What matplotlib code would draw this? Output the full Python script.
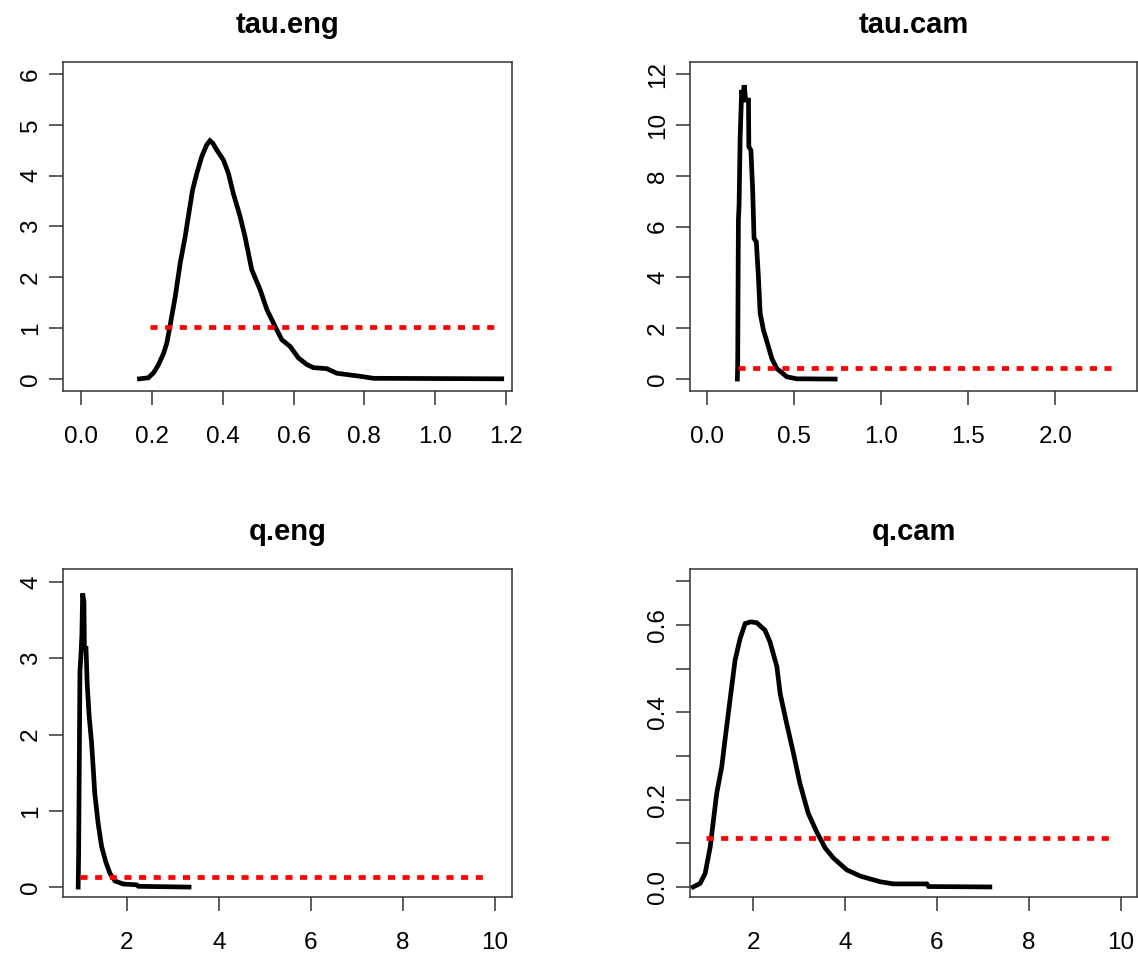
import matplotlib
matplotlib.use("Agg")
import matplotlib.pyplot as plt

plt.rcParams['font.family'] = ['Liberation Sans', 'DejaVu Sans']

# posterior densities
tau_eng_x = [0.165, 0.19, 0.205, 0.218, 0.233, 0.242, 0.251, 0.266, 0.28, 0.294, 0.303, 0.315,
             0.327, 0.341, 0.355, 0.364, 0.372, 0.383, 0.402, 0.416, 0.43, 0.449, 0.463, 0.482,
             0.506, 0.525, 0.548, 0.567, 0.59, 0.614, 0.638, 0.656, 0.694, 0.722, 0.788,
             0.826, 1.188]
tau_eng_y = [0.0, 0.02, 0.12, 0.27, 0.5, 0.7, 1.03, 1.62, 2.28, 2.8, 3.2, 3.72,
             4.05, 4.38, 4.61, 4.69, 4.64, 4.51, 4.31, 4.05, 3.65, 3.2, 2.8, 2.15,
             1.75, 1.36, 1.03, 0.77, 0.64, 0.41, 0.28, 0.22, 0.2, 0.11, 0.05,
             0.01, 0.0]

tau_cam_x = [0.174, 0.176, 0.18, 0.184, 0.19, 0.199, 0.206, 0.213, 0.222, 0.238, 0.24,
             0.252, 0.262, 0.27, 0.283, 0.295, 0.305, 0.324, 0.347, 0.372, 0.40, 0.458,
             0.515, 0.736]
tau_cam_y = [0.0, 0.55, 6.26, 6.85, 9.5, 11.38, 11.0, 11.57, 10.98, 10.98, 9.15,
             9.0, 7.44, 5.54, 5.4, 4.03, 2.59, 1.93, 1.4, 0.81, 0.42, 0.09,
             0.01, 0.0]

q_eng_x = [0.94, 0.95, 0.978, 1.0, 1.02, 1.037, 1.065, 1.075, 1.11, 1.137, 1.18,
           1.23, 1.27, 1.30, 1.375, 1.45, 1.54, 1.63, 1.74, 1.92, 2.21, 2.25, 3.35]
q_eng_y = [0.0, 0.44, 2.82, 3.04, 3.3, 3.85, 3.74, 3.13, 3.13, 2.65, 2.23,
           1.9, 1.53, 1.23, 0.83, 0.53, 0.33, 0.18, 0.08, 0.04, 0.03, 0.01, 0.0]

q_cam_x = [0.70, 0.85, 0.96, 1.07, 1.14, 1.21, 1.32, 1.39, 1.50, 1.61, 1.72, 1.83,
           1.95, 2.08, 2.26, 2.37, 2.52, 2.59, 2.73, 2.88, 3.02, 3.20, 3.38, 3.57, 3.75,
           4.04, 4.33, 4.76, 5.05, 5.78, 5.82, 7.15]
q_cam_y = [0.0, 0.008, 0.031, 0.092, 0.153, 0.214, 0.275, 0.336, 0.428, 0.519, 0.569,
           0.603, 0.607, 0.605, 0.588, 0.561, 0.504, 0.443, 0.375, 0.306, 0.237, 0.169,
           0.127, 0.089, 0.066, 0.039, 0.025, 0.012, 0.007, 0.007, 0.001, 0.0]

# uniform priors: (from, to, density)
prior_tau_eng = (0.195, 1.175, 1.02)
prior_tau_cam = (0.18, 2.355, 0.43)
prior_q_eng = (0.98, 9.85, 0.13)
prior_q_cam = (0.98, 9.83, 0.111)

titles = ["tau.eng", "tau.cam", "q.eng", "q.cam"]

W, H = 1138, 961
fig = plt.figure(figsize=(W / 100, H / 100), dpi=100)

def box(left, top, right, bottom):
    return [left / W, 1 - bottom / H, (right - left) / W, (bottom - top) / H]

panels = [
    dict(rect=box(63, 62, 512, 391), x=tau_eng_x, y=tau_eng_y, prior=prior_tau_eng,
         xlim=(-0.051, 1.217), ylim=(-0.24, 6.24),
         xticks=[0.0, 0.2, 0.4, 0.6, 0.8, 1.0, 1.2],
         yticks=[0, 1, 2, 3, 4, 5, 6], ylab=None),
    dict(rect=box(690, 62, 1137, 391), x=tau_cam_x, y=tau_cam_y, prior=prior_tau_cam,
         xlim=(-0.098, 2.47), ylim=(-0.47, 12.48),
         xticks=[0.0, 0.5, 1.0, 1.5, 2.0],
         yticks=[0, 2, 4, 6, 8, 10, 12], ylab=None),
    dict(rect=box(63, 569, 512, 897), x=q_eng_x, y=q_eng_y, prior=prior_q_eng,
         xlim=(0.61, 10.37), ylim=(-0.13, 4.17),
         xticks=[2, 4, 6, 8, 10],
         yticks=[0, 1, 2, 3, 4], ylab=None),
    dict(rect=box(690, 569, 1137, 897), x=q_cam_x, y=q_cam_y, prior=prior_q_cam,
         xlim=(0.63, 10.35), ylim=(-0.023, 0.728),
         xticks=[2, 4, 6, 8, 10],
         yticks=[0.0, 0.1, 0.2, 0.3, 0.4, 0.5, 0.6, 0.7],
         ylab=["0.0", "", "0.2", "", "0.4", "", "0.6", ""]),
]

for p, title in zip(panels, titles):
    ax = fig.add_axes(p["rect"])
    ax.plot(p["x"], p["y"], color="black", lw=3.4, solid_joinstyle="miter")
    x0, x1, d = p["prior"]
    ax.plot([x0, x1], [d, d], color="red", lw=3.4, linestyle=(0, (1.5, 1.6)))
    ax.set_xlim(*p["xlim"])
    ax.set_ylim(*p["ylim"])
    ax.set_xticks(p["xticks"])
    ax.set_yticks(p["yticks"])
    if p["ylab"] is not None:
        ax.set_yticklabels(p["ylab"])
    ax.tick_params(axis="both", length=10, width=1.1, color="#333333", labelsize=17.5)
    ax.tick_params(axis="x", pad=15)
    ax.tick_params(axis="y", pad=5)
    for lab in ax.get_yticklabels():
        lab.set_rotation(90)
        lab.set_va("center")
    for s in ax.spines.values():
        s.set_color("#333333")
        s.set_linewidth(1.1)
    ax.set_title(title, fontsize=21, fontweight="bold", pad=21)

fig.savefig("out.png", dpi=100)
